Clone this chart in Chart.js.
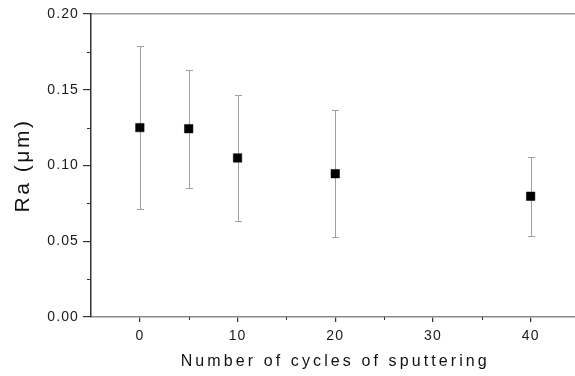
<!DOCTYPE html>
<html><head><meta charset="utf-8">
<script src="https://cdn.jsdelivr.net/npm/chart.js@4"></script>
<style>html,body{margin:0;padding:0;overflow:hidden;background:#fff;width:575px;height:376px}canvas{display:block}</style>
</head><body>
<canvas id="c" width="586" height="376"></canvas>
<script>
const cycles = [0, 5, 10, 20, 40];
const raMean = [0.125, 0.1243, 0.105, 0.0946, 0.0797];
const raErr = [0.054, 0.039, 0.0415, 0.042, 0.026];
const xTicks = [0, 10, 20, 30, 40];
const xMinorTicks = [5, 15, 25, 35];
const yTicks = [0, 0.05, 0.10, 0.15, 0.20];
const yMinorTicks = [0.025, 0.075, 0.125, 0.175];
const xTitle = 'Number of cycles of sputtering';
const yTitle = 'Ra (\u03bcm)';

const FONT = "'Liberation Sans', Arial, sans-serif";
const titleSpacing = { x: '3.1px', y: '2.5px' };

const spacingPlugin = {
  id: 'spacing',
  afterUpdate(chart) {
    Object.values(chart.scales).forEach(s => {
      if (s.__patched) return;
      ['drawTitle', '_drawTitle'].forEach(name => {
        if (typeof s[name] === 'function') {
          const orig = s[name];
          s[name] = function (...args) {
            const ctx = this.ctx;
            ctx.save();
            ctx.letterSpacing = titleSpacing[this.id] || '0px';
            const r = orig.apply(this, args);
            ctx.restore();
            return r;
          };
        }
      });
      s.__patched = true;
    });
  },
  beforeDraw(chart) { chart.ctx.letterSpacing = '1.1px'; }
};

const errorBars = {
  id: 'errorBars',
  beforeDatasetsDraw(chart) {
    const { ctx, scales: { x, y } } = chart;
    ctx.save();
    ctx.strokeStyle = '#a0a0a0';
    ctx.lineWidth = 1;
    cycles.forEach((c, i) => {
      const px = Math.round(x.getPixelForValue(c)) + 0.5;
      const top = Math.round(y.getPixelForValue(raMean[i] + raErr[i])) + 0.5;
      const bot = Math.round(y.getPixelForValue(raMean[i] - raErr[i])) + 0.5;
      ctx.beginPath();
      ctx.moveTo(px, top); ctx.lineTo(px, bot);
      ctx.moveTo(px - 3.5, top); ctx.lineTo(px + 3.5, top);
      ctx.moveTo(px - 3.5, bot); ctx.lineTo(px + 3.5, bot);
      ctx.stroke();
    });
    ctx.restore();
  }
};

const minorTicks = {
  id: 'minorTicks',
  afterDraw(chart) {
    const { ctx, chartArea, scales: { x, y } } = chart;
    ctx.save();
    ctx.strokeStyle = '#333';
    ctx.lineWidth = 1;
    ctx.beginPath();
    xMinorTicks.forEach(v => {
      const px = Math.round(x.getPixelForValue(v)) + 0.5;
      ctx.moveTo(px, chartArea.bottom); ctx.lineTo(px, chartArea.bottom + 3);
    });
    yMinorTicks.forEach(v => {
      const py = Math.round(y.getPixelForValue(v)) + 0.5;
      ctx.moveTo(chartArea.left, py); ctx.lineTo(chartArea.left - 4, py);
    });
    ctx.stroke();
    ctx.restore();
  }
};

new Chart(document.getElementById('c'), {
  type: 'scatter',
  data: {
    datasets: [{
      data: cycles.map((c, i) => ({ x: c, y: raMean[i] })),
      pointStyle: 'rect',
      pointRadius: 6,
      pointHoverRadius: 6,
      backgroundColor: '#000',
      borderColor: '#000',
      borderWidth: 0.5,
      showLine: false
    }]
  },
  options: {
    responsive: false,
    animation: false,
    devicePixelRatio: 1,
    layout: { padding: { left: 0, right: 1, top: 0, bottom: 0 } },
    plugins: { legend: { display: false }, tooltip: { enabled: false } },
    scales: {
      x: {
        type: 'linear', position: 'bottom', min: -5, max: 45,
        afterBuildTicks: s => { s.ticks = xTicks.map(v => ({ value: v })); },
        afterFit: s => { s.height = 59; },
        ticks: { color: '#1a1a1a', font: { family: FONT, size: 14 }, padding: 6, callback: v => String(v) },
        grid: { drawOnChartArea: false, drawTicks: true, tickLength: 5, color: '#333', lineWidth: 1.2 },
        border: { display: true, color: '#8a8a8a', width: 1.5 },
        title: { display: true, text: xTitle, color: '#111', font: { family: FONT, size: 16 }, padding: { top: 0, bottom: 5 } }
      },
      x2: {
        type: 'linear', position: 'top', min: -5, max: 45,
        afterFit: s => { s.height = 14; },
        ticks: { display: false },
        grid: { drawOnChartArea: false, drawTicks: false },
        border: { display: true, color: '#9a9a9a', width: 1.5 }
      },
      y: {
        type: 'linear', position: 'left', min: 0, max: 0.2,
        afterBuildTicks: s => { s.ticks = yTicks.map(v => ({ value: v })); },
        afterFit: s => { s.width = 91; },
        ticks: { color: '#1a1a1a', font: { family: FONT, size: 14 }, padding: 4, callback: v => Number(v).toFixed(2) },
        grid: { drawOnChartArea: false, drawTicks: true, tickLength: 8, color: '#333', lineWidth: 1.2 },
        border: { display: true, color: '#333', width: 1.5 },
        title: { display: true, text: yTitle, color: '#111', font: { family: FONT, size: 21 }, padding: { top: 11, bottom: 0 } }
      }
    }
  },
  plugins: [spacingPlugin, errorBars, minorTicks]
});
</script>
</body></html>
